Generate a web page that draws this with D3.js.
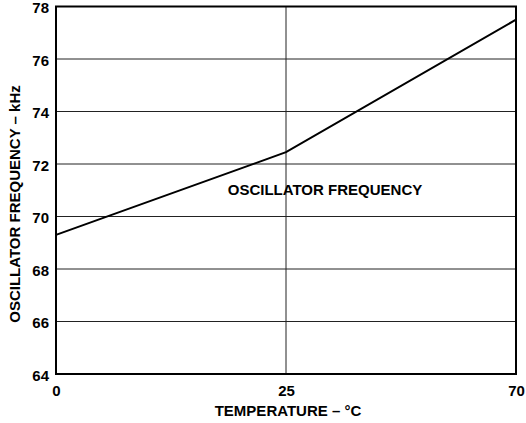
<!DOCTYPE html>
<html><head><meta charset="utf-8">
<script src="https://cdn.jsdelivr.net/npm/d3@7"></script>
<style>body{margin:0;background:#fff}svg{display:block}text{font-family:"Liberation Sans",Arial,sans-serif;font-weight:bold;fill:#000}</style>
</head><body><svg id="c" width="526" height="423"></svg>
<script>
const temps = ["0","25","70"];
const freq = [69.3, 72.45, 77.5];
const yTicks = [64,66,68,70,72,74,76,78];
const xTitle = "TEMPERATURE – °C";
const yTitle = "OSCILLATOR FREQUENCY – kHz";
const curveLabel = "OSCILLATOR FREQUENCY";

const svg = d3.select("#c");
const L=56,R=516,T=6.5,B=374;
const x = d3.scalePoint().domain(temps).range([L,R]);
const y = d3.scaleLinear().domain([64,78]).range([B,T]);

svg.append("g").selectAll("line").data(yTicks.slice(1,-1)).join("line")
  .attr("x1",L).attr("x2",R).attr("y1",d=>y(d)).attr("y2",d=>y(d))
  .attr("stroke","#222").attr("stroke-width",1);
svg.append("g").selectAll("line").data(temps.slice(1,-1)).join("line")
  .attr("x1",d=>x(d)).attr("x2",d=>x(d)).attr("y1",T).attr("y2",B)
  .attr("stroke","#222").attr("stroke-width",1);

const ya = d3.axisLeft(y).tickValues(yTicks).tickSize(0).tickPadding(7);
svg.append("g").attr("transform",`translate(${L},0)`).call(ya)
  .call(g=>g.select(".domain").remove())
  .selectAll("text").attr("font-size",15).attr("font-family","Liberation Sans, Arial, sans-serif").attr("font-weight","bold").attr("dy","0.4em");
const xa = d3.axisBottom(x).tickSize(0).tickPadding(11);
svg.append("g").attr("transform",`translate(0,${B})`).call(xa)
  .call(g=>g.select(".domain").remove())
  .selectAll("text").attr("font-size",15).attr("font-family","Liberation Sans, Arial, sans-serif").attr("font-weight","bold");

svg.append("rect").attr("x",L).attr("y",T).attr("width",R-L).attr("height",B-T)
  .attr("fill","none").attr("stroke","#000").attr("stroke-width",2);

svg.append("path").datum(temps.map((t,i)=>[t,freq[i]]))
  .attr("d",d3.line().x(d=>x(d[0])).y(d=>y(d[1])))
  .attr("fill","none").attr("stroke","#000").attr("stroke-width",2);

svg.append("text").attr("x",325).attr("y",195).attr("text-anchor","middle").attr("font-size",15).text(curveLabel);
svg.append("text").attr("x",288).attr("y",416).attr("text-anchor","middle").attr("font-size",15).text(xTitle);
svg.append("text").attr("transform","translate(20,204) rotate(-90)").attr("text-anchor","middle").attr("font-size",15).text(yTitle);
</script></body></html>
